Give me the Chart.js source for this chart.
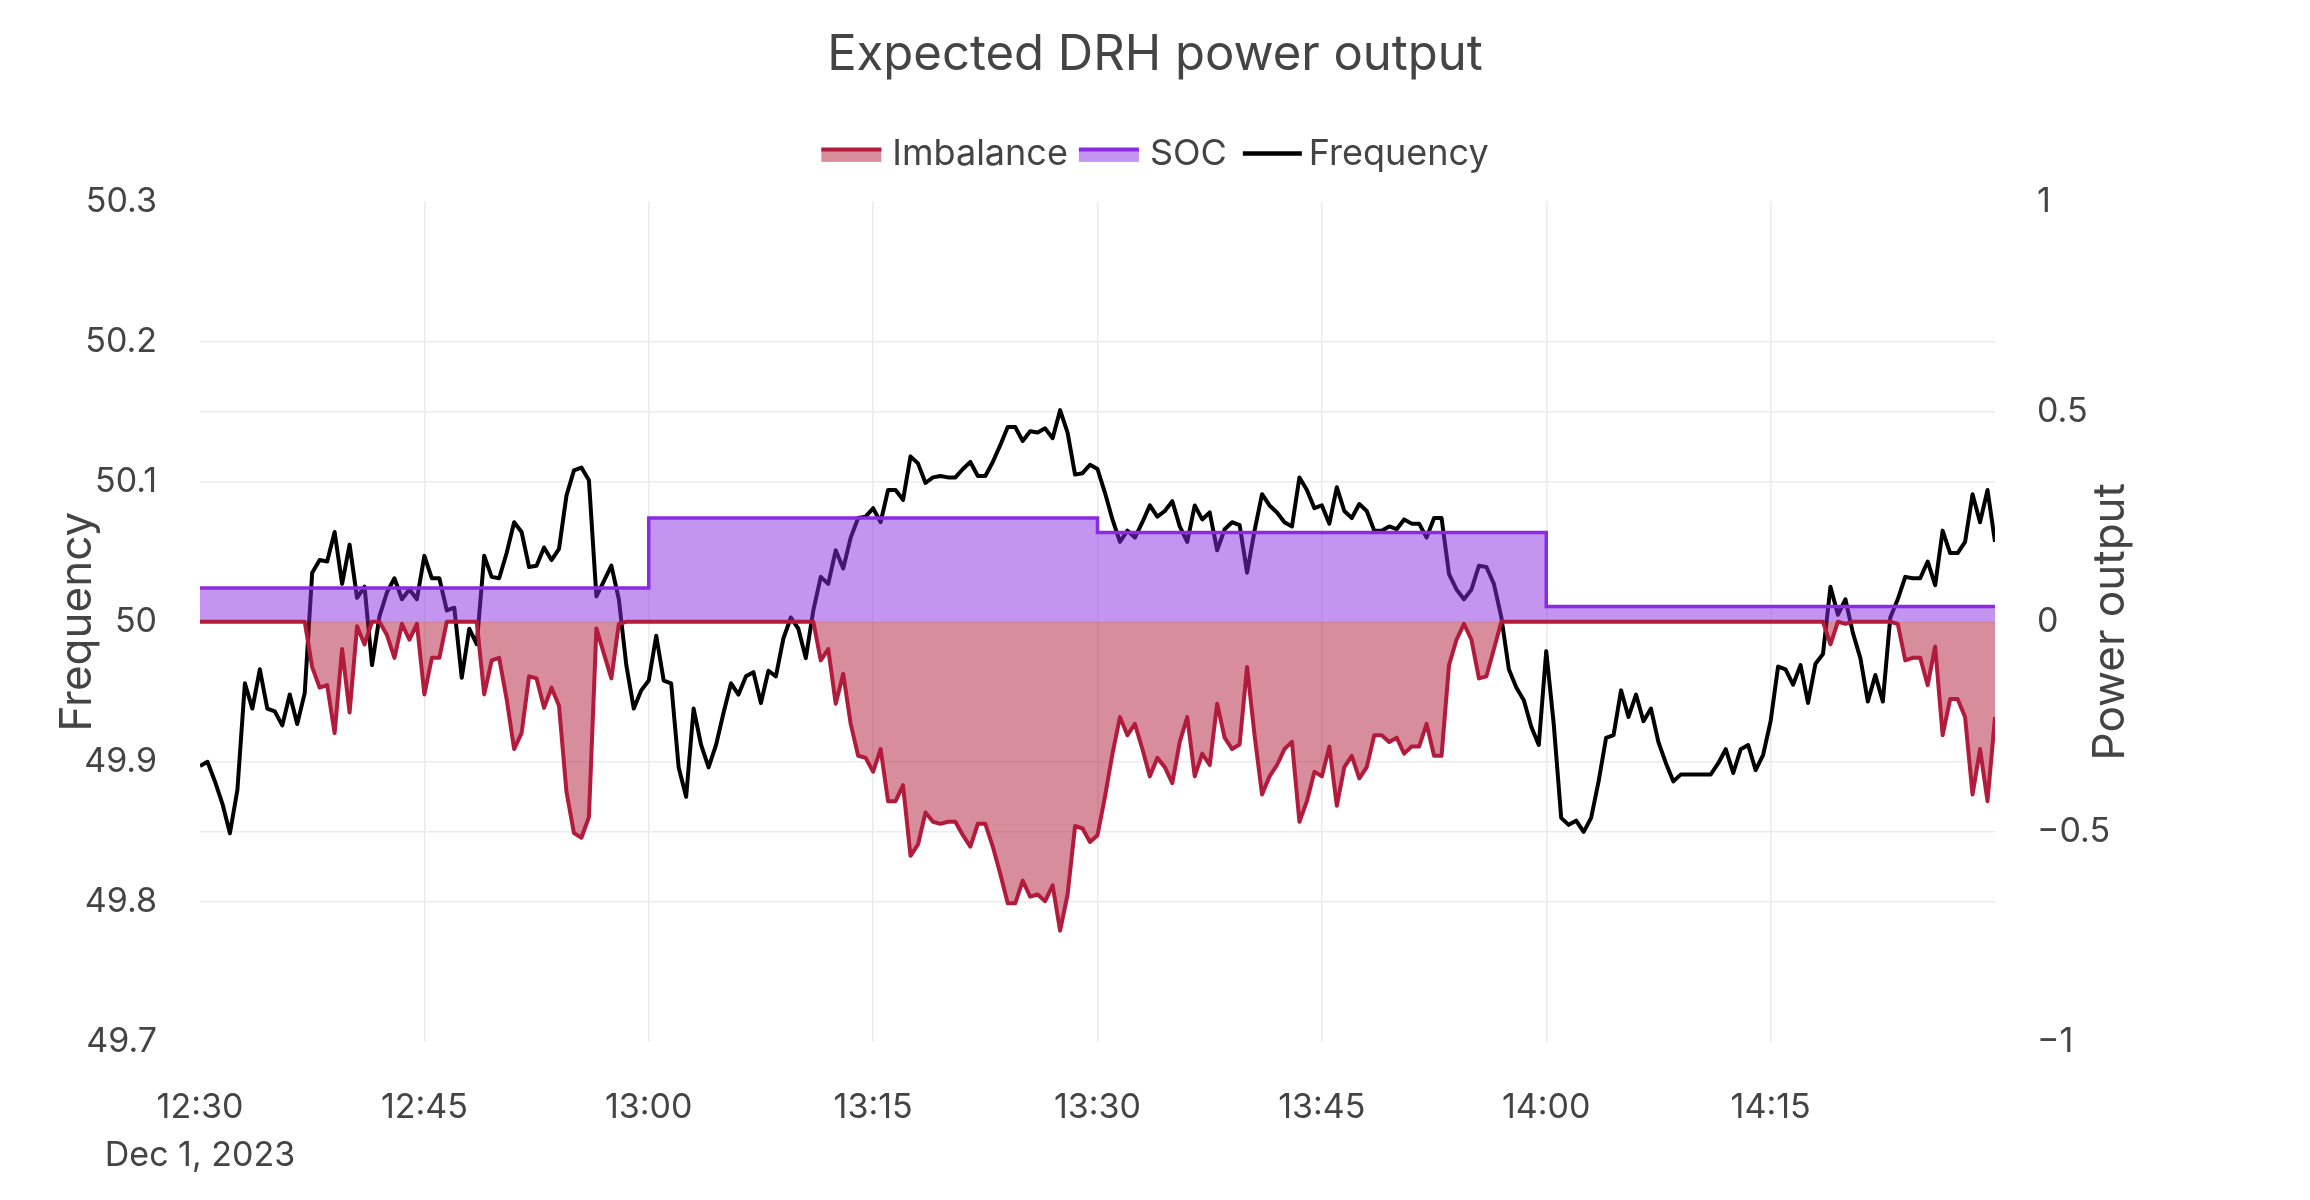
<!DOCTYPE html>
<html>
<head>
<meta charset="utf-8">
<script src="https://cdn.jsdelivr.net/npm/chart.js@4.4.1/dist/chart.umd.min.js"></script>
<style>
  html, body { margin: 0; padding: 0; background: #ffffff; }
  canvas { display: block; }
</style>
</head>
<body>
<canvas id="c" width="2310" height="1200" style="width:2310px;height:1200px"></canvas>
<script>
// ---------------- data ----------------
const chartTitle = 'Expected DRH power output';
const startTime = '12:30';            // first sample, Dec 1, 2023
const sampleStepMinutes = 0.5;        // one sample every 30 s
const dateLabel = 'Dec 1, 2023';

// Grid frequency [Hz], 12:30 -> 14:30
const frequency = [
  49.897, 49.900, 49.886, 49.870, 49.849, 49.880, 49.956, 49.938, 49.966, 49.938,
  49.936, 49.926, 49.948, 49.927, 49.949, 50.035, 50.044, 50.043, 50.064, 50.027,
  50.055, 50.017, 50.025, 49.969, 50.004, 50.021, 50.031, 50.016, 50.023, 50.016,
  50.047, 50.031, 50.031, 50.008, 50.010, 49.960, 49.995, 49.984, 50.047, 50.032,
  50.031,
  50.049, 50.071, 50.064, 50.039, 50.040, 50.053, 50.044, 50.052, 50.090, 50.108,
  50.110, 50.101, 50.018, 50.029, 50.040, 50.016, 49.969, 49.938, 49.951, 49.958,
  49.990, 49.958, 49.956, 49.896, 49.875, 49.938, 49.912, 49.896, 49.912, 49.935,
  49.956, 49.948, 49.961, 49.964, 49.942, 49.965, 49.961, 49.988, 50.003, 49.995,
  49.974, 50.008, 50.032, 50.027, 50.051, 50.038, 50.060, 50.074, 50.075, 50.081,
  50.071, 50.094, 50.094, 50.087, 50.118, 50.113, 50.099, 50.103, 50.104, 50.103,
  50.103, 50.109, 50.114, 50.104, 50.104, 50.114, 50.126, 50.139, 50.139, 50.129,
  50.136, 50.135, 50.138, 50.131, 50.151, 50.135, 50.105, 50.106, 50.112, 50.109,
  50.092, 50.073, 50.057, 50.065, 50.060, 50.071, 50.083, 50.075, 50.079, 50.086,
  50.068, 50.057, 50.083, 50.073, 50.078, 50.051, 50.066, 50.071, 50.069, 50.035,
  50.065, 50.091, 50.083, 50.078, 50.071, 50.068, 50.103, 50.094, 50.081, 50.083,
  50.070, 50.096, 50.079, 50.074, 50.084, 50.079, 50.065, 50.065, 50.068, 50.066,
  50.073, 50.070, 50.070, 50.060, 50.074, 50.074, 50.034, 50.023, 50.016, 50.023,
  50.040, 50.039, 50.027, 50.003, 49.966, 49.953, 49.944, 49.925, 49.912, 49.979,
  49.927, 49.860, 49.855, 49.858, 49.850, 49.860, 49.886, 49.917, 49.919, 49.951,
  49.932, 49.948, 49.929, 49.938, 49.914, 49.899, 49.886, 49.891, 49.891, 49.891,
  49.891, 49.891, 49.899, 49.909, 49.892, 49.909, 49.912, 49.894, 49.905, 49.929,
  49.968, 49.966, 49.955, 49.969, 49.942, 49.970, 49.977, 50.025, 50.005, 50.016,
  49.992, 49.974, 49.943, 49.962, 49.943, 50.003, 50.016, 50.032, 50.031, 50.031,
  50.043, 50.026, 50.065, 50.049, 50.049, 50.057, 50.091, 50.071, 50.094, 50.057
];

// Imbalance power output [p.u.], same timestamps
const imbalance = [
  0, 0, 0, 0, 0, 0, 0, 0, 0, 0,
  0, 0, 0, 0, 0, -0.108, -0.157, -0.151, -0.265, -0.065,
  -0.216, -0.011, -0.054, 0, 0, -0.032, -0.086, -0.005, -0.043, -0.005,
  -0.173, -0.086, -0.086, 0, 0, 0, 0, 0, -0.173, -0.092,
  -0.086,
  -0.184, -0.303, -0.265, -0.130, -0.135, -0.205, -0.157, -0.200, -0.405, -0.503,
  -0.514, -0.465, -0.016, -0.076, -0.135, -0.005, 0, 0, 0, 0,
  0, 0, 0, 0, 0, 0, 0, 0, 0, 0,
  0, 0, 0, 0, 0, 0, 0, 0, 0, 0,
  0, 0, -0.092, -0.065, -0.195, -0.124, -0.243, -0.319, -0.324, -0.357,
  -0.303, -0.427, -0.427, -0.389, -0.557, -0.530, -0.454, -0.476, -0.481, -0.476,
  -0.476, -0.508, -0.535, -0.481, -0.481, -0.535, -0.600, -0.670, -0.670, -0.616,
  -0.654, -0.649, -0.665, -0.627, -0.735, -0.649, -0.486, -0.492, -0.524, -0.508,
  -0.416, -0.314, -0.227, -0.270, -0.243, -0.303, -0.368, -0.324, -0.346, -0.384,
  -0.286, -0.227, -0.368, -0.314, -0.341, -0.195, -0.276, -0.303, -0.292, -0.108,
  -0.270, -0.411, -0.368, -0.341, -0.303, -0.286, -0.476, -0.427, -0.357, -0.368,
  -0.297, -0.438, -0.346, -0.319, -0.373, -0.346, -0.270, -0.270, -0.286, -0.276,
  -0.314, -0.297, -0.297, -0.243, -0.319, -0.319, -0.103, -0.043, -0.005, -0.043,
  -0.135, -0.130, -0.065, 0, 0, 0, 0, 0, 0, 0,
  0, 0, 0, 0, 0, 0, 0, 0, 0, 0,
  0, 0, 0, 0, 0, 0, 0, 0, 0, 0,
  0, 0, 0, 0, 0, 0, 0, 0, 0, 0,
  0, 0, 0, 0, 0, 0, 0, -0.054, 0, -0.005,
  0, 0, 0, 0, 0, 0, -0.005, -0.092, -0.086, -0.086,
  -0.151, -0.059, -0.270, -0.184, -0.184, -0.227, -0.411, -0.303, -0.427, -0.227
];

// State of charge (step series)
const socTimes  = ['12:30', '13:00', '13:30', '14:00', '14:30'];
const socValues = [0.080, 0.247, 0.212, 0.036, 0.036];

// Axis ticks
const xTickTimes  = ['12:30', '12:45', '13:00', '13:15', '13:30', '13:45', '14:00', '14:15'];
const leftTickLabels  = ['49.7', '49.8', '49.9', '50', '50.1', '50.2', '50.3'];
const rightTickLabels = ['\u22121', '\u22120.5', '0', '0.5', '1'];

// ---------------- helpers ----------------
function toMinutes(hhmm) {
  const [h, m] = hhmm.split(':').map(Number);
  const [h0, m0] = startTime.split(':').map(Number);
  return (h * 60 + m) - (h0 * 60 + m0);
}
const xTickMinutes = xTickTimes.map(toMinutes);

const TEXT = '#444444';
const GRID = '#ebebeb';
const NONE = 'rgba(0,0,0,0)';
const IMB_LINE = '#b21b3c';
const IMB_FILL = 'rgba(178,27,60,0.5)';
const SOC_LINE = '#8a2be2';
const SOC_FILL = 'rgba(138,43,226,0.5)';
const FREQ_LINE = '#000000';

Chart.defaults.font.family = 'Inter, "Noto Sans", sans-serif';
Chart.defaults.color = TEXT;

const freqPoints = frequency.map((v, i) => ({ x: i * sampleStepMinutes, y: v }));
const imbPoints  = imbalance.map((v, i) => ({ x: i * sampleStepMinutes, y: v }));
const socPoints  = socValues.map((v, i) => ({ x: toMinutes(socTimes[i]), y: v }));

const edgeGrid = (c) => (c.index === 0 || c.index === c.scale.ticks.length - 1) ? NONE : GRID;

const extras = {
  id: 'extras',
  afterDraw(chart) {
    const ctx = chart.ctx;
    const boxes = chart.legend.legendHitBoxes;
    const sw = [
      { fill: IMB_FILL, line: IMB_LINE },
      { fill: SOC_FILL, line: SOC_LINE },
      { fill: null, line: FREQ_LINE }
    ];
    boxes.forEach((b, i) => {
      const cy = b.top + b.height / 2;
      ctx.save();
      if (sw[i].fill) {
        ctx.fillStyle = sw[i].fill;
        ctx.fillRect(b.left, cy - 6, 60, 13.5);
        ctx.strokeStyle = sw[i].line;
        ctx.lineWidth = 4;
        ctx.beginPath();
        ctx.moveTo(b.left, cy - 5);
        ctx.lineTo(b.left + 60, cy - 5);
        ctx.stroke();
      } else {
        ctx.strokeStyle = sw[i].line;
        ctx.lineWidth = 4.5;
        ctx.beginPath();
        ctx.moveTo(b.left + 5, cy - 1);
        ctx.lineTo(b.left + 64, cy - 1);
        ctx.stroke();
      }
      ctx.restore();
    });
    // right axis title, reading bottom-to-top
    const y1 = chart.scales.y1;
    ctx.save();
    ctx.translate(y1.left + 116, (chart.chartArea.top + chart.chartArea.bottom) / 2);
    ctx.rotate(-Math.PI / 2);
    ctx.fillStyle = TEXT;
    ctx.font = '44px Inter, "Noto Sans", sans-serif';
    ctx.textAlign = 'center';
    ctx.textBaseline = 'middle';
    ctx.fillText('Power output', 0, 0);
    ctx.restore();
  }
};

new Chart(document.getElementById('c'), {
  type: 'line',
  data: {
    datasets: [
      {
        label: 'Imbalance', data: imbPoints, yAxisID: 'y1',
        borderColor: IMB_LINE, backgroundColor: IMB_FILL, borderWidth: 4,
        pointRadius: 0, fill: 'origin', tension: 0, borderJoinStyle: 'round'
      },
      {
        label: 'SOC', data: socPoints, yAxisID: 'y1', stepped: 'before',
        borderColor: SOC_LINE, backgroundColor: SOC_FILL, borderWidth: 3.5,
        pointRadius: 0, fill: 'origin'
      },
      {
        label: 'Frequency', data: freqPoints, yAxisID: 'y',
        borderColor: FREQ_LINE, backgroundColor: FREQ_LINE, borderWidth: 4,
        pointRadius: 0, fill: false, tension: 0, borderJoinStyle: 'round'
      }
    ]
  },
  options: {
    responsive: false,
    animation: false,
    devicePixelRatio: 1,
    events: [],
    layout: { padding: 0 },
    plugins: {
      title: {
        display: true, text: chartTitle, color: TEXT,
        font: { size: 49, weight: 'normal', lineHeight: 1.2 },
        padding: { top: 26, bottom: 21.6 }
      },
      legend: {
        display: true, position: 'top', align: 'center',
        labels: {
          color: TEXT, font: { size: 36 }, boxWidth: 53, boxHeight: 74, padding: 11,
          generateLabels(chart) {
            const items = Chart.defaults.plugins.legend.labels.generateLabels(chart);
            items.forEach(it => { it.fillStyle = NONE; it.strokeStyle = NONE; it.lineWidth = 0; });
            return items;
          }
        }
      },
      tooltip: { enabled: false }
    },
    scales: {
      x: {
        type: 'linear', min: 0, max: 120,
        afterFit(s) { s.height = 158; },
        afterBuildTicks(s) { s.ticks = xTickMinutes.map(v => ({ value: v })); },
        ticks: {
          autoSkip: false, maxRotation: 0, minRotation: 0, padding: 42, color: TEXT,
          font: { size: 34, lineHeight: 1.4 },
          callback: (v, i) => i === 0 ? [xTickTimes[0], dateLabel] : xTickTimes[i]
        },
        grid: { drawTicks: false, lineWidth: 1.5, color: (c) => c.index === 0 ? NONE : GRID },
        border: { display: false }
      },
      y: {
        position: 'left', min: 49.7, max: 50.3,
        afterFit(s) { s.width = 200; },
        ticks: {
          stepSize: 0.1, padding: 43, color: TEXT, font: { size: 34 },
          callback: (v) => leftTickLabels[Math.round((v - 49.7) * 10)]
        },
        grid: { drawTicks: false, lineWidth: 1.5, color: edgeGrid },
        border: { display: false },
        title: {
          display: true, text: 'Frequency', color: TEXT,
          font: { size: 44, lineHeight: 1.2 }, padding: { top: 51, bottom: 0 }
        }
      },
      y1: {
        position: 'right', min: -1, max: 1,
        afterFit(s) { s.width = 315; },
        ticks: {
          stepSize: 0.5, padding: 42, color: TEXT, font: { size: 34 },
          callback: (v) => rightTickLabels[Math.round((v + 1) * 2)]
        },
        grid: { drawTicks: false, lineWidth: 1.5, color: edgeGrid },
        border: { display: false }
      }
    }
  },
  plugins: [extras]
});
</script>
</body>
</html>
